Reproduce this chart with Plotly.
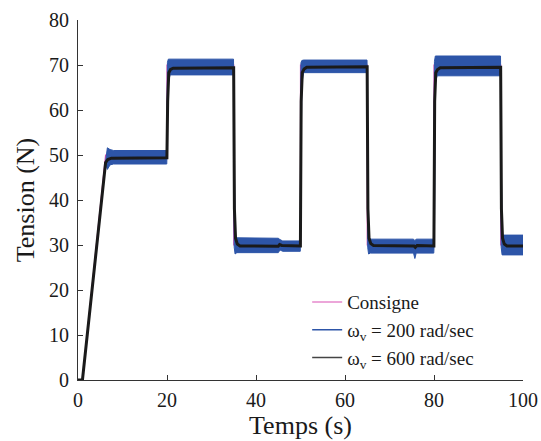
import plotly.graph_objects as go

# ---- data ----
t_consigne = [0, 1.0, 6.2, 20, 20, 35, 35, 50, 50, 65, 65, 80, 80, 95, 95, 100]
y_consigne = [0, 0, 50, 50, 70, 70, 30, 30, 70, 70, 30, 30, 70, 70, 30, 30]

# envelope of the oscillating response (omega_v = 200 rad/sec)
t_200 = [0, 1.0, 6.2, 6.6, 7.2, 8.0, 19.95, 20.1, 20.3, 20.7, 34.95, 35.1, 35.3, 35.7,
         45.0, 45.4, 46.0, 49.95, 50.1, 50.3, 50.7, 64.95, 65.1, 65.3, 65.7,
         75.4, 75.7, 76.0, 79.95, 80.1, 80.3, 80.7, 94.95, 95.1, 95.3, 95.7, 100]
y_200_hi = [0, 0, 48.6, 51.6, 51.2, 51.0, 51.0, 70.6, 71.3, 71.3, 71.3, 52.0, 32.0, 31.6,
            31.5, 31.2, 30.9, 30.9, 70.5, 71.0, 71.1, 71.1, 52.0, 32.0, 31.3,
            31.3, 31.0, 31.3, 31.3, 70.8, 72.0, 72.0, 72.0, 52.0, 32.2, 32.2, 32.2]
y_200_lo = [0, 0, 48.0, 46.8, 47.8, 48.0, 48.0, 52.0, 66.0, 67.8, 67.8, 29.5, 28.0, 28.3,
            28.3, 28.9, 28.6, 28.6, 32.0, 66.0, 68.3, 68.3, 29.5, 28.0, 28.2,
            28.2, 27.0, 28.2, 28.2, 32.0, 66.0, 67.6, 67.6, 29.5, 27.8, 27.8, 27.8]

# response with omega_v = 600 rad/sec
t_600 = [0, 1.0, 6.2, 6.7, 7.5, 19.98, 20.15, 20.4, 20.8, 21.4, 34.98, 35.15, 35.4, 35.8, 36.4,
         45.0, 45.3, 45.8, 49.98, 50.15, 50.4, 50.8, 51.4, 64.98, 65.15, 65.4, 65.8, 66.4,
         75.5, 75.8, 76.2, 79.98, 80.15, 80.4, 80.8, 81.4, 94.98, 95.15, 95.4, 95.8, 96.4, 100]
y_600 = [0, 0, 48.3, 49.0, 49.3, 49.4, 62.0, 68.3, 69.0, 69.3, 69.4, 38.0, 31.5, 30.2, 29.8,
         29.7, 30.1, 29.9, 29.8, 62.0, 68.3, 69.1, 69.5, 69.6, 38.0, 31.5, 30.3, 29.9,
         29.8, 29.5, 29.9, 29.8, 62.0, 68.3, 69.0, 69.4, 69.5, 38.0, 31.5, 30.2, 29.8, 29.8]

x_ticks = [0, 20, 40, 60, 80, 100]
y_ticks = [0, 10, 20, 30, 40, 50, 60, 70, 80]

# ---- figure ----
PINK = "#d94fb4"
BLUE = "#2d55a8"
BLACK = "#1a1a1a"
FONT = "Liberation Serif, DejaVu Serif, serif"
TXT = "#1a1a1a"

fig = go.Figure()

fig.add_trace(go.Scatter(
    x=t_consigne, y=y_consigne, mode="lines",
    line=dict(color=PINK, width=1.2), name="Consigne"))

fig.add_trace(go.Scatter(
    x=t_200 + t_200[::-1], y=y_200_hi + y_200_lo[::-1],
    mode="lines", fill="toself", fillcolor=BLUE,
    line=dict(color=BLUE, width=1), showlegend=False, hoverinfo="skip"))
fig.add_trace(go.Scatter(
    x=[None], y=[None], mode="lines",
    line=dict(color=BLUE, width=1.5), name="ω<sub>v</sub> = 200 rad/sec"))

fig.add_trace(go.Scatter(
    x=t_600, y=y_600, mode="lines",
    line=dict(color=BLACK, width=3), showlegend=False))
fig.add_trace(go.Scatter(
    x=[None], y=[None], mode="lines",
    line=dict(color="#444444", width=1.5), name="ω<sub>v</sub> = 600 rad/sec"))

axis_common = dict(
    showline=True, linecolor="#333333", linewidth=1,
    ticks="inside", ticklen=5, tickcolor="#333333",
    showgrid=False, zeroline=False, mirror=False, automargin=False,
    tickfont=dict(family=FONT, size=20, color=TXT),
)

fig.update_xaxes(range=[0, 100], tickvals=x_ticks, ticklabelstandoff=2,
                 title=dict(text="Temps (s)", font=dict(family=FONT, size=26, color=TXT),
                            standoff=2),
                 **axis_common)
fig.update_yaxes(range=[0, 80], tickvals=y_ticks, ticklabelstandoff=4,
                 title=dict(text="Tension (N)", font=dict(family=FONT, size=26, color=TXT),
                            standoff=6),
                 **axis_common)

fig.update_layout(
    width=541, height=441,
    margin=dict(l=78, r=18, t=20, b=61, autoexpand=False),
    plot_bgcolor="white", paper_bgcolor="white",
    font=dict(family=FONT, size=20, color=TXT),
    legend=dict(x=0.515, y=0.269, xanchor="left", yanchor="top",
                bgcolor="rgba(0,0,0,0)", font=dict(family=FONT, size=19, color=TXT),
                tracegroupgap=0),
    showlegend=True,
)

# remove the default page margin so the 541x441 figure fills the window exactly
fig.write_html(
    "out.html",
    config={"displayModeBar": False},
    post_script="document.body.style.margin='0';document.body.style.overflow='hidden';",
)
